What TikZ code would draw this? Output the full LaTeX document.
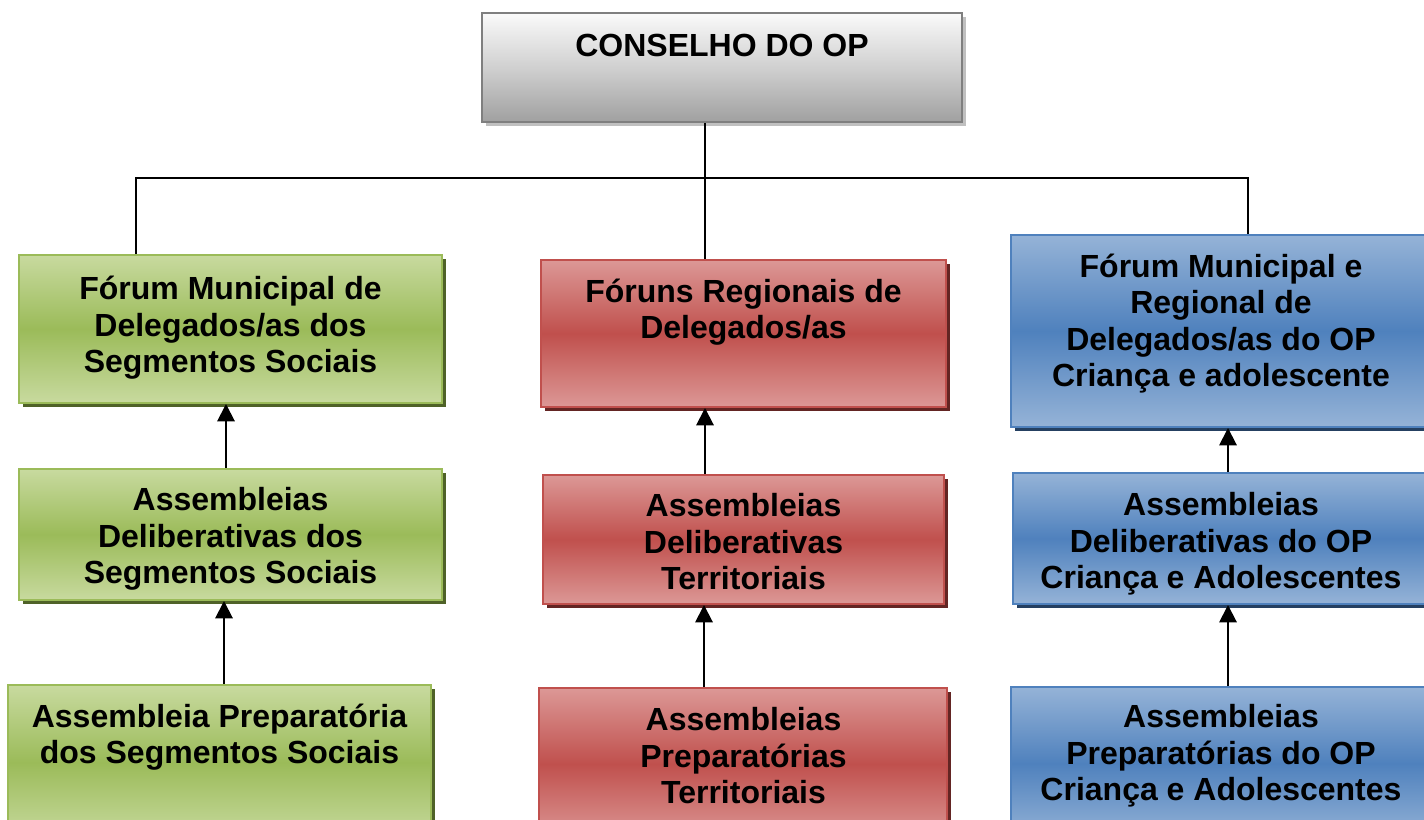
\documentclass[tikz,border=0pt]{standalone}
\usepackage{fontspec}
\setmainfont{Liberation Sans}
\usetikzlibrary{fit,shadows,arrows.meta}
\definecolor{gL}{HTML}{C8DA9F}
\definecolor{gM}{HTML}{9BBB59}
\definecolor{gB}{HTML}{9BBB59}
\definecolor{gS}{HTML}{4F6228}
\definecolor{rL}{HTML}{DC9896}
\definecolor{rM}{HTML}{C0504D}
\definecolor{rB}{HTML}{C0504D}
\definecolor{rS}{HTML}{632523}
\definecolor{bL}{HTML}{95B3D7}
\definecolor{bM}{HTML}{4F81BD}
\definecolor{bB}{HTML}{4F81BD}
\definecolor{bS}{HTML}{254061}
\definecolor{kT}{HTML}{FAFAFA}
\definecolor{kM}{HTML}{D0D0D0}
\definecolor{kD}{HTML}{A0A0A0}
\definecolor{kB}{HTML}{7F7F7F}
\definecolor{kS}{HTML}{C0C0C0}
\tikzset{
  box/.style={rectangle, draw, line width=1.5pt, inner sep=0pt},
  gbox/.style={box, draw=gB, top color=gL, bottom color=gL, middle color=gM,
    drop shadow={opacity=1, fill=gS, shadow xshift=3pt, shadow yshift=-3pt}},
  rbox/.style={box, draw=rB, top color=rL, bottom color=rL, middle color=rM,
    drop shadow={opacity=1, fill=rS, shadow xshift=3pt, shadow yshift=-3pt}},
  bbox/.style={box, draw=bB, top color=bL, bottom color=bL, middle color=bM,
    drop shadow={opacity=1, fill=bS, shadow xshift=3pt, shadow yshift=-3pt}},
  kbox/.style={box, draw=kB, top color=kT, bottom color=kD, middle color=kM,
    drop shadow={opacity=1, fill=kS, shadow xshift=3pt, shadow yshift=-3pt}},
  txt/.style={font=\bfseries\fontsize{24}{27.4}\selectfont, align=center, inner sep=0pt},
  up/.style={-{Triangle[width=13pt,length=13pt]}, line width=1.5pt},
  link/.style={line width=1.2pt}
}
\begin{document}
\begin{tikzpicture}[x=0.75pt,y=-0.75pt]
\useasboundingbox (0,0) rectangle (1424,820);
\begin{scope}
\clip (0,0) rectangle (1424,820);
% boxes
\node[kbox, fit={(482,13) (962,122)}] (top) {};
\node[gbox, fit={(19,255) (442,403)}] (G1) {};
\node[gbox, fit={(19,469) (442,600)}] (G2) {};
\node[gbox, fit={(8,685) (431,840)}] (G3) {};
\node[rbox, fit={(541,260) (946,407)}] (R1) {};
\node[rbox, fit={(543,475) (944,604)}] (R2) {};
\node[rbox, fit={(539,688) (947,840)}] (R3) {};
\node[bbox, fit={(1011,235) (1432,427)}] (B1) {};
\node[bbox, fit={(1013,473) (1432,604)}] (B2) {};
\node[bbox, fit={(1011,687) (1432,840)}] (B3) {};
% texts
\node[txt] (topt) at (722,45.5) {CONSELHO DO OP};
\node[txt] (G1t) at (230.5,328) {Fórum Municipal de\\Delegados/as dos\\Segmentos Sociais};
\node[txt] (G2t) at (230.5,539) {Assembleias\\Deliberativas dos\\Segmentos Sociais};
\node[txt] (G3t) at (219.5,737) {Assembleia Preparatória\\dos Segmentos Sociais};
\node[txt] (R1t) at (743.5,312) {Fóruns Regionais de\\Delegados/as};
\node[txt] (R2t) at (743.5,542) {Assembleias\\Deliberativas\\Territoriais};
\node[txt] (R3t) at (743.5,756) {Assembleias\\Preparatórias\\Territoriais};
\node[txt] (B1t) at (1221,323.5) {Fórum Municipal e\\Regional de\\Delegados/as do OP\\Criança e adolescente};
\node[txt] (B2t) at (1221,544) {Assembleias\\Deliberativas do OP\\Criança e Adolescentes};
\node[txt] (B3t) at (1221,756) {Assembleias\\Preparatórias do OP\\Criança e Adolescentes};
% connectors
\coordinate (bl) at (136,178);
\coordinate (bm) at (705,178);
\coordinate (br) at (1248,178);
\draw[link] (bm |- top.south) -- (bm |- R1.north);
\draw[link] (G1.north -| bl) -- (bl) -- (br) -- (B1.north -| br);
% arrows
\coordinate (ga) at (226,0);
\coordinate (gb) at (224,0);
\coordinate (ra) at (705,0);
\coordinate (rb) at (704,0);
\coordinate (ba) at (1228,0);
\draw[up] (G2.north -| ga) -- (G1.south -| ga);
\draw[up] (G3.north -| gb) -- (G2.south -| gb);
\draw[up] (R2.north -| ra) -- (R1.south -| ra);
\draw[up] (R3.north -| rb) -- (R2.south -| rb);
\draw[up] (B2.north -| ba) -- (B1.south -| ba);
\draw[up] (B3.north -| ba) -- (B2.south -| ba);
\end{scope}
\end{tikzpicture}
\end{document}
